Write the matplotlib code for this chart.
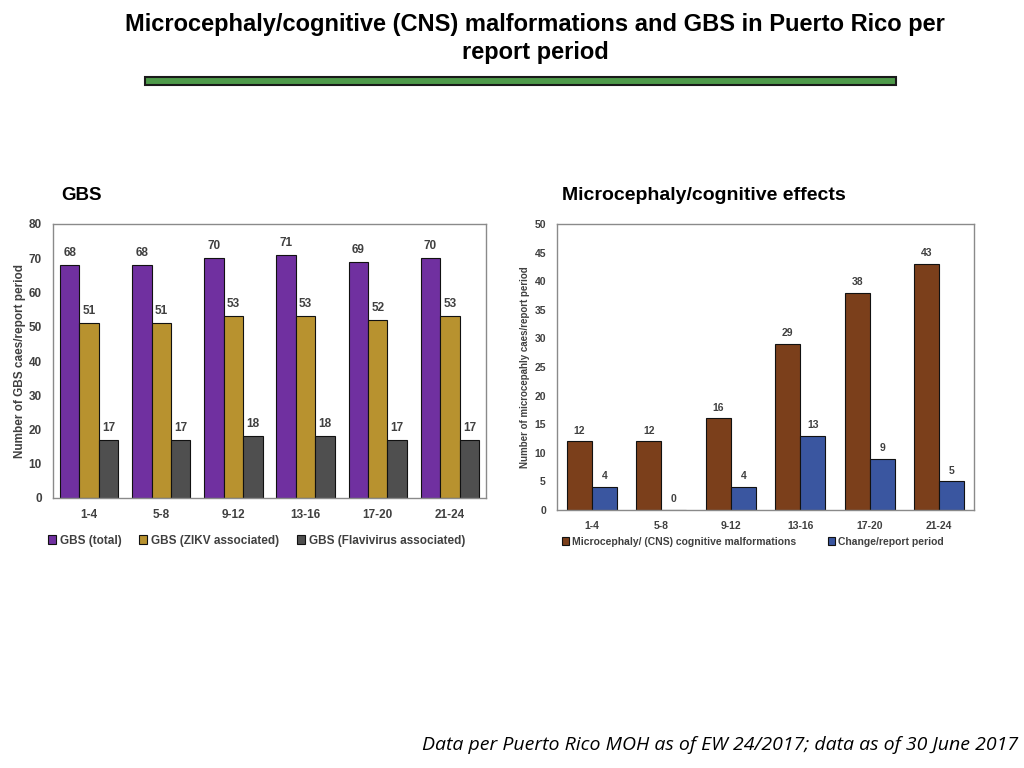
import matplotlib
matplotlib.use("Agg")
import matplotlib.pyplot as plt
from matplotlib.patches import Rectangle
import numpy as np

periods = ["1-4", "5-8", "9-12", "13-16", "17-20", "21-24"]
gbs_total = [68, 68, 70, 71, 69, 70]
gbs_zikv = [51, 51, 53, 53, 52, 53]
gbs_flavi = [17, 17, 18, 18, 17, 17]
micro_cases = [12, 12, 16, 29, 38, 43]
micro_change = [4, 0, 4, 13, 9, 5]

gbs_names = ["GBS (total)", "GBS (ZIKV associated)", "GBS (Flavivirus associated)"]
micro_names = ["Microcephaly/ (CNS) cognitive malformations", "Change/report period"]

plt.rcParams["font.family"] = ["Liberation Sans", "DejaVu Sans"]

c_purple = "#7030A0"
c_gold = "#B8922F"
c_gray = "#4F4F4F"
c_brown = "#7B3F1B"
c_blue = "#3A56A0"
txt = "#404040"

W, H = 1024, 768
fig = plt.figure(figsize=(10.24, 7.68), dpi=100)
fig.patch.set_facecolor("white")

def ax_rect(x0, y0, x1, y1):
    return [x0 / W, 1 - y1 / H, (x1 - x0) / W, (y1 - y0) / H]

fig.text(535 / W, 1 - 24 / H, "Microcephaly/cognitive (CNS) malformations and GBS in Puerto Rico per",
         ha="center", va="center", fontsize=17, fontweight="bold")
fig.text(535 / W, 1 - 52 / H, "report period",
         ha="center", va="center", fontsize=17, fontweight="bold")
fig.patches.append(Rectangle((145 / W, 1 - 85 / H), (896 - 145) / W, 8 / H,
                             transform=fig.transFigure, facecolor="#4E9A4A",
                             edgecolor="#1a1a1a", linewidth=1.5))

fig.text(61 / W, 1 - 196 / H, "GBS", ha="left", va="center", fontsize=13.5, fontweight="bold")
fig.text(562 / W, 1 - 196 / H, "Microcephaly/cognitive effects", ha="left", va="center",
         fontsize=14, fontweight="bold")

fig.text(1018 / W, 1 - 745 / H, "Data per Puerto Rico MOH as of EW 24/2017; data as of 30 June 2017",
         ha="right", va="center", fontsize=14, style="italic", family=["Open Sans", "DejaVu Sans"])

x = np.arange(len(periods))

# Left chart
ax1 = fig.add_axes(ax_rect(53, 224, 486, 498))
w = 0.27
for i, (vals, col) in enumerate(zip([gbs_total, gbs_zikv, gbs_flavi], [c_purple, c_gold, c_gray])):
    bars = ax1.bar(x + (i - 1) * w, vals, w, color=col, edgecolor="#111111", linewidth=0.8,
                   label=gbs_names[i])
    for b, v in zip(bars, vals):
        ax1.text(b.get_x() + b.get_width() / 2, v + 1.8, str(v), ha="center", va="bottom",
                 fontsize=8.5, fontweight="bold", color=txt)
ax1.set_xlim(-0.5, 5.5)
ax1.set_ylim(0, 80)
ax1.set_yticks(range(0, 81, 10))
ax1.set_xticks(x)
ax1.set_xticklabels(periods)
ax1.tick_params(length=0, labelsize=8.5, colors=txt, pad=8)
for lab in ax1.get_xticklabels() + ax1.get_yticklabels():
    lab.set_fontweight("bold")
ax1.set_ylabel("Number of GBS caes/report period", fontsize=8.5, fontweight="bold", color=txt,
               labelpad=2)
for s in ax1.spines.values():
    s.set_color("#8a8a8a")
    s.set_linewidth(1)
ax1.legend(loc="upper center", bbox_to_anchor=(0.47, -0.095), ncol=3, frameon=False,
           handlelength=0.7, handleheight=0.7, handletextpad=0.3, columnspacing=1.5,
           labelcolor=txt, prop={"weight": "bold", "size": 8.5})

# Right chart
ax2 = fig.add_axes(ax_rect(557, 224, 974, 510))
w2 = 0.36
for i, (vals, col) in enumerate(zip([micro_cases, micro_change], [c_brown, c_blue])):
    bars = ax2.bar(x + (i - 0.5) * w2, vals, w2, color=col, edgecolor="#111111", linewidth=0.8,
                   label=micro_names[i])
    for b, v in zip(bars, vals):
        ax2.text(b.get_x() + b.get_width() / 2, v + 1.0, str(v), ha="center", va="bottom",
                 fontsize=7.5, fontweight="bold", color=txt)
ax2.set_xlim(-0.5, 5.5)
ax2.set_ylim(0, 50)
ax2.set_yticks(range(0, 51, 5))
ax2.set_xticks(x)
ax2.set_xticklabels(periods)
ax2.tick_params(length=0, labelsize=7.5, colors=txt, pad=8)
for lab in ax2.get_xticklabels() + ax2.get_yticklabels():
    lab.set_fontweight("bold")
ax2.set_ylabel("Number of microcepahly caes/report period", fontsize=7, fontweight="bold",
               color=txt, labelpad=3)
for s in ax2.spines.values():
    s.set_color("#8a8a8a")
    s.set_linewidth(1)
ax2.legend(loc="upper center", bbox_to_anchor=(0.47, -0.06), ncol=2, frameon=False,
           handlelength=0.7, handleheight=0.7, handletextpad=0.3, columnspacing=3.0,
           labelcolor=txt, prop={"weight": "bold", "size": 7.5})

fig.savefig("out.png", dpi=100)
